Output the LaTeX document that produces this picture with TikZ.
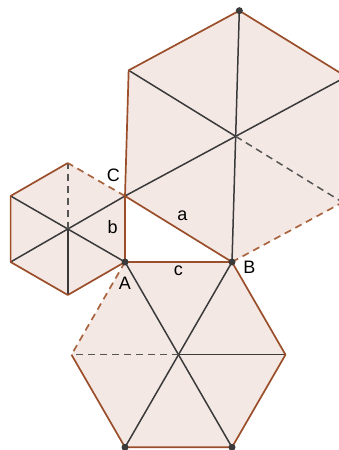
\documentclass[tikz,border=0pt]{standalone}
\usepackage{fontspec}
\setmainfont{Liberation Sans}
\usepackage{xcolor}
\definecolor{rust}{HTML}{9A4E2A}
\definecolor{rustl}{HTML}{A9643F}
\definecolor{ink}{HTML}{3A3A3A}
\definecolor{inkl}{HTML}{555555}
\definecolor{blush}{HTML}{F4E8E4}
\usepackage{tikz}
\usetikzlibrary{calc}
\tikzset{
  hexf/.style={fill=blush,draw=none},
  side/.style={draw=rust,line width=1.7pt,line join=round},
  sided/.style={draw=rustl,line width=1.7pt,dash pattern=on 7pt off 5pt},
  spoke/.style={draw=ink,line width=1.5pt},
  spoked/.style={draw=inkl,line width=1.5pt,dash pattern=on 7pt off 5pt},
  pt/.style={circle,fill=ink,inner sep=0pt,minimum size=7pt},
  lbl/.style={font=\fontsize{18}{20}\selectfont,text=black,inner sep=0pt},
}
\begin{document}
\begin{tikzpicture}[x=1pt,y=-1pt]
  \useasboundingbox (0,0) rectangle (339,450);
  \clip (0,0) rectangle (339,450);
  % triangle
  \coordinate (A) at (125,262);
  \coordinate (B) at (232,262);
  \coordinate (C) at (125,196);
  % hexagon on c
  \coordinate (Oc) at (178.5,354.7);
  \coordinate (c3) at (285.5,354.7);
  \coordinate (c4) at (232,447.3);
  \coordinate (c5) at (125,447.3);
  \coordinate (c6) at (71.5,354.7);
  % hexagon on b
  \coordinate (Ob) at (67.8,229);
  \coordinate (b3) at (67.8,295);
  \coordinate (b4) at (10.6,262);
  \coordinate (b5) at (10.6,196);
  \coordinate (b6) at (67.8,163);
  % hexagon on a
  \coordinate (Oa) at (235.66,136.33);
  \coordinate (a3) at (342.66,202.33);
  \coordinate (a4) at (346.32,76.66);
  \coordinate (a5) at (239.32,10.66);
  \coordinate (a6) at (128.66,70.33);

  \fill[hexf] (A) -- (B) -- (c3) -- (c4) -- (c5) -- (c6) -- cycle;
  \fill[hexf] (C) -- (A) -- (b3) -- (b4) -- (b5) -- (b6) -- cycle;
  \fill[hexf] (C) -- (B) -- (a3) -- (a4) -- (a5) -- (a6) -- cycle;

  \foreach \v in {A,B,c3,c4,c5} \draw[spoke] (Oc) -- (\v);
  \draw[spoked] (Oc) -- (c6);
  \foreach \v in {C,A,b3,b4,b5} \draw[spoke] (Ob) -- (\v);
  \draw[spoked] (Ob) -- (b6);
  \foreach \v in {C,B,a4,a5,a6} \draw[spoke] (Oa) -- (\v);
  \draw[spoked] (Oa) -- (a3);

  \draw[side] (c6) -- (c5) -- (c4) -- (c3) -- (B) -- (A);
  \draw[sided] (A) -- (c6);
  \draw[side] (b6) -- (b5) -- (b4) -- (b3) -- (A) -- (C);
  \draw[sided] (C) -- (b6);
  \draw[side] (a3) -- (a4) -- (a5) -- (a6) -- (C) -- (B);
  \draw[sided] (B) -- (a3);

  \node[pt] (dA) at (A) {};
  \node[pt] (dB) at (B) {};
  \node[pt] (dT) at (a5) {};
  \node[pt] (dL) at (c5) {};
  \node[pt] (dR) at (c4) {};

  \node[lbl] (lC) at (113.3,175.3) {C};
  \node[lbl] (la) at (182.3,215.5) {a};
  \node[lbl] (lb) at (112.7,227.5) {b};
  \node[lbl] (lc) at (178.3,270.5) {c};
  \node[lbl] (lA) at (125,283.3) {A};
  \node[lbl] (lB) at (249.3,267.3) {B};
\end{tikzpicture}
\end{document}
